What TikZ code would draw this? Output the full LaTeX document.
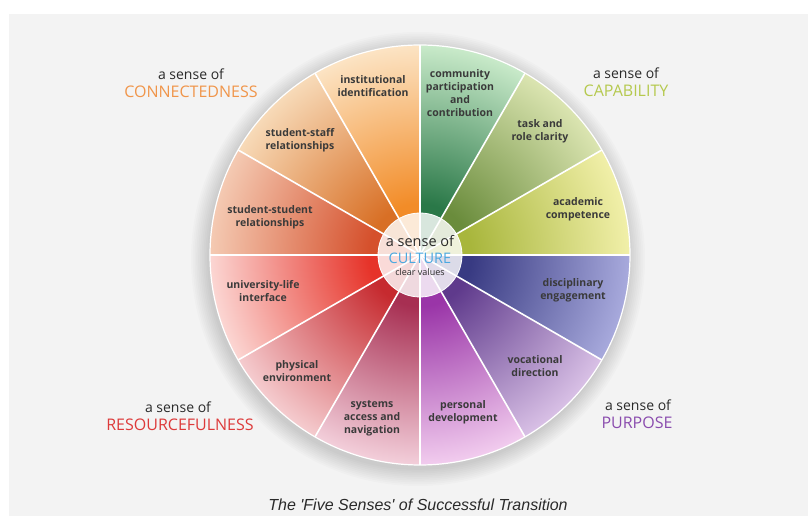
\documentclass[tikz,border=0pt]{standalone}
\usepackage{fontspec}
\setmainfont{Open Sans}
\newfontfamily\titlefont[Ligatures=TeXOff]{Liberation Sans}
\definecolor{panel}{HTML}{F3F3F3}
\definecolor{labelgray}{HTML}{3A3A3A}
\definecolor{sensegray}{HTML}{2A2A2A}
\definecolor{cConn}{HTML}{F0954A}
\definecolor{cCap}{HTML}{B5C94E}
\definecolor{cRes}{HTML}{DD3A3A}
\definecolor{cPur}{HTML}{8A4CAE}
\definecolor{cCul}{HTML}{4AA8E0}
\definecolor{aI}{HTML}{F28C28}\definecolor{aO}{HTML}{FCE6C8}
\definecolor{bI}{HTML}{D86F25}\definecolor{bO}{HTML}{F8DDBC}
\definecolor{cI}{HTML}{D5502C}\definecolor{cO}{HTML}{F5CDB6}
\definecolor{dI}{HTML}{E63329}\definecolor{dO}{HTML}{FCDAD7}
\definecolor{eI}{HTML}{C62A2F}\definecolor{eO}{HTML}{F6D0D3}
\definecolor{fI}{HTML}{A72F52}\definecolor{fO}{HTML}{F5D3DE}
\definecolor{gI}{HTML}{9A35A8}\definecolor{gO}{HTML}{F4D0F0}
\definecolor{hI}{HTML}{5F3A8C}\definecolor{hO}{HTML}{DCC4E8}
\definecolor{iI}{HTML}{383A82}\definecolor{iO}{HTML}{ABADDF}
\definecolor{jI}{HTML}{A8B63C}\definecolor{jO}{HTML}{F3F1AC}
\definecolor{kI}{HTML}{6A8C3C}\definecolor{kO}{HTML}{DEE7B4}
\definecolor{lI}{HTML}{2A7848}\definecolor{lO}{HTML}{CDEDCD}
\colorlet{secin}{aI}\colorlet{secout}{aO}
\pgfdeclareradialshading[secin,secout]{sectshade}{\pgfpoint{0bp}{0bp}}{color(0bp)=(secin); color(6bp)=(secin); color(25bp)=(secout); color(50bp)=(secout)}
\begin{document}
\begin{tikzpicture}[x=1pt,y=1pt,
  seclabel/.style={font=\fontsize{10.5}{12.8}\selectfont\bfseries, text=labelgray, align=center, inner sep=0pt},
  senseof/.style={font=\fontsize{14}{16}\selectfont, text=sensegray, inner sep=0pt},
  bigsense/.style={font=\fontsize{16}{18}\selectfont, inner sep=0pt},
  divider/.style={white, line width=1.6pt}]
\useasboundingbox (0,0) rectangle (808,516);
\fill[white] (0,0) rectangle (808,516);
\fill[panel] (9,0) rectangle (808,502);
\coordinate (C) at (420,261);
% soft shadow
\foreach \i in {1,...,10}{
  \fill[black, opacity=0.015] (418,257) circle ({209+1.8*\i});
}
% sectors
\begin{scope}
\clip (C) circle (210);
\foreach \a/\ci/\co in {90/aI/aO,120/bI/bO,150/cI/cO,180/dI/dO,210/eI/eO,240/fI/fO,270/gI/gO,300/hI/hO,330/iI/iO,0/jI/jO,30/kI/kO,60/lI/lO}{
  \begin{scope}
    \colorlet{secin}{\ci}\colorlet{secout}{\co}
    \clip (C) -- ++(\a:215) arc[start angle=\a, end angle=\a+30, radius=215] -- cycle;
    \shade[shading=sectshade] (C) circle (214);
  \end{scope}
}
\end{scope}
\foreach \a in {0,30,...,330}{
  \draw[divider] (C) -- ++(\a:210);
}
\draw[white, line width=1.2pt] (C) circle (210);
% inner circle
\fill[white, opacity=0.82] (C) circle (42);
\draw[white, line width=0.8pt] (C) circle (42);
\node[senseof, font=\fontsize{14.5}{17}\selectfont] (cs) at (420,275) {a sense of};
\node[bigsense, text=cCul, font=\fontsize{14.5}{16}\selectfont] (cu) at (420,258) {CULTURE};
\node[font=\fontsize{9}{10}\selectfont, text=sensegray, inner sep=0pt] (cv) at (420,244) {clear values};
% sector labels
\node[seclabel] (s1) at (373,430) {institutional\\identification};
\node[seclabel] (s2) at (300,376) {student-staff\\relationships};
\node[seclabel] (s3) at (270,299) {student-student\\relationships};
\node[seclabel] (s4) at (263,225) {university-life\\interface};
\node[seclabel] (s5) at (297,145) {physical\\environment};
\node[seclabel] (s6) at (372,98) {systems\\access and\\navigation};
\node[seclabel] (s7) at (463,104) {personal\\development};
\node[seclabel] (s8) at (535,150) {vocational\\direction};
\node[seclabel] (s9) at (573,226) {disciplinary\\engagement};
\node[seclabel] (s10) at (578,307) {academic\\competence};
\node[seclabel] (s11) at (540,385) {task and\\role clarity};
\node[seclabel] (s12) at (460,423) {community\\participation\\and\\contribution};
% five senses labels
\node[senseof] (t1) at (191,442) {a sense of};
\node[bigsense, text=cConn] (T1) at (191,424) {CONNECTEDNESS};
\node[senseof] (t2) at (626,443) {a sense of};
\node[bigsense, text=cCap] (T2) at (626,425) {CAPABILITY};
\node[senseof] (t3) at (178,109) {a sense of};
\node[bigsense, text=cRes] (T3) at (180,91) {RESOURCEFULNESS};
\node[senseof] (t4) at (638,111) {a sense of};
\node[bigsense, text=cPur] (T4) at (637,93) {PURPOSE};
% title
\node[font=\titlefont\itshape\fontsize{16}{18}\selectfont, text=sensegray, inner sep=0pt] (title) at (418,11) {The 'Five Senses' of Successful Transition};
\end{tikzpicture}
\end{document}
